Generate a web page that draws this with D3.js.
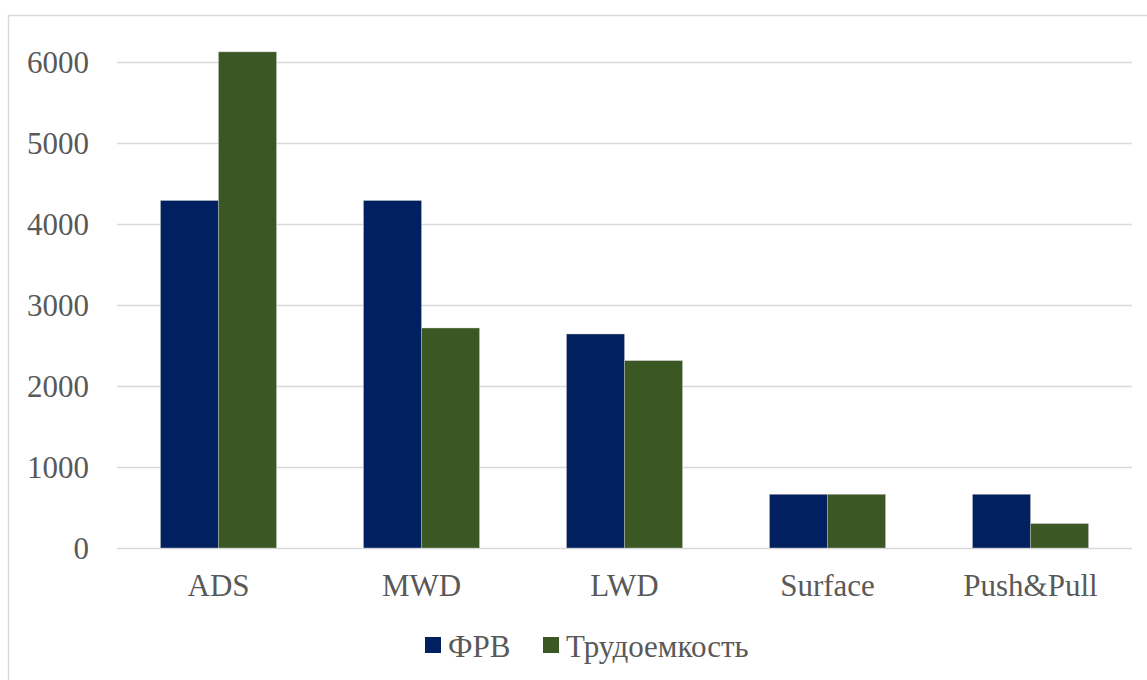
<!DOCTYPE html>
<html>
<head>
<meta charset="utf-8">
<script src="https://cdn.jsdelivr.net/npm/d3@7"></script>
<style>
  html, body { margin: 0; padding: 0; background: #fff; }
  svg { display: block; }
</style>
</head>
<body>
<svg id="chart" width="1147" height="680"></svg>
<script>
// Categories and series values
const categories = ["ADS", "MWD", "LWD", "Surface", "Push&Pull"];
const seriesNames = ["ФРВ", "Трудоемкость"];
const frvValues = [4290, 4290, 2642, 663, 663];
const laborValues = [6125, 2716, 2313, 663, 301];
const yTicks = [0, 1000, 2000, 3000, 4000, 5000, 6000];
const colors = ["#002060", "#3B5723"];

const seriesValues = [frvValues, laborValues];
const FONT = "Liberation Serif, Times New Roman, DejaVu Serif, serif";
const TEXT_COLOR = "#595959";

const svg = d3.select("#chart")
  .attr("font-family", FONT);
const W = 1147, H = 680;

// Chart area frame
svg.append("rect")
  .attr("x", 8.5).attr("y", 15.5)
  .attr("width", W + 20).attr("height", H + 20)
  .attr("fill", "none")
  .attr("stroke", "#d9d9d9")
  .attr("stroke-width", 1.5);

const plot = { left: 117, right: 1132, top: 62, bottom: 548 };

const x = d3.scaleBand()
  .domain(categories)
  .range([plot.left, plot.right])
  .paddingInner(0)
  .paddingOuter(0);

// Two bars per group; gap between groups is 150% of a bar width
const barW = x.bandwidth() / (2 + 1.5);
const x1 = d3.scaleBand()
  .domain(seriesNames)
  .range([0, barW * 2])
  .padding(0);

const y = d3.scaleLinear()
  .domain([0, 6000])
  .range([plot.bottom, plot.top]);

// Gridlines
svg.append("g")
  .selectAll("line")
  .data(yTicks)
  .join("line")
  .attr("x1", plot.left).attr("x2", plot.right)
  .attr("y1", d => Math.round(y(d)) + 0.5)
  .attr("y2", d => Math.round(y(d)) + 0.5)
  .attr("stroke", "#d9d9d9")
  .attr("stroke-width", 1.5);

// Y axis labels
const yAxis = d3.axisLeft(y).tickValues(yTicks).tickSize(0).tickPadding(0).tickFormat(d3.format("d"));
const yG = svg.append("g")
  .attr("transform", `translate(89,0)`)
  .call(yAxis)
  .attr("font-family", FONT)
  .attr("font-size", 31);
yG.select(".domain").remove();
yG.selectAll("text")
  .attr("dy", "0.33em")
  .attr("fill", TEXT_COLOR);

// Bars
const groups = svg.append("g")
  .selectAll("g")
  .data(categories)
  .join("g")
  .attr("transform", d => `translate(${x(d) + (x.bandwidth() - barW * 2) / 2},0)`);

groups.selectAll("rect")
  .data((d, i) => seriesNames.map((s, j) => ({ s, j, v: seriesValues[j][i] })))
  .join("rect")
  .attr("x", d => x1(d.s))
  .attr("width", x1.bandwidth())
  .attr("y", d => y(d.v))
  .attr("height", d => y(0) - y(d.v))
  .attr("fill", d => colors[d.j])
  .attr("stroke", "rgba(200,200,200,0.6)")
  .attr("stroke-width", 0.7);

// X axis labels
const xAxis = d3.axisBottom(x).tickSize(0).tickPadding(0);
const xG = svg.append("g")
  .attr("transform", `translate(0,574)`)
  .call(xAxis)
  .attr("font-family", FONT)
  .attr("font-size", 31);
xG.select(".domain").remove();
xG.selectAll("text")
  .attr("dy", "0.71em")
  .attr("fill", TEXT_COLOR);

// Legend
const legendItems = [
  { name: seriesNames[0], color: colors[0], x: 425 },
  { name: seriesNames[1], color: colors[1], x: 543 }
];
const lg = svg.append("g")
  .attr("font-family", FONT)
  .attr("font-size", 31)
  .attr("fill", TEXT_COLOR);
legendItems.forEach(it => {
  lg.append("rect")
    .attr("x", it.x).attr("y", 637)
    .attr("width", 16).attr("height", 16)
    .attr("fill", it.color);
  lg.append("text")
    .attr("x", it.x + 23).attr("y", 657)
    .text(it.name);
});
</script>
</body>
</html>
